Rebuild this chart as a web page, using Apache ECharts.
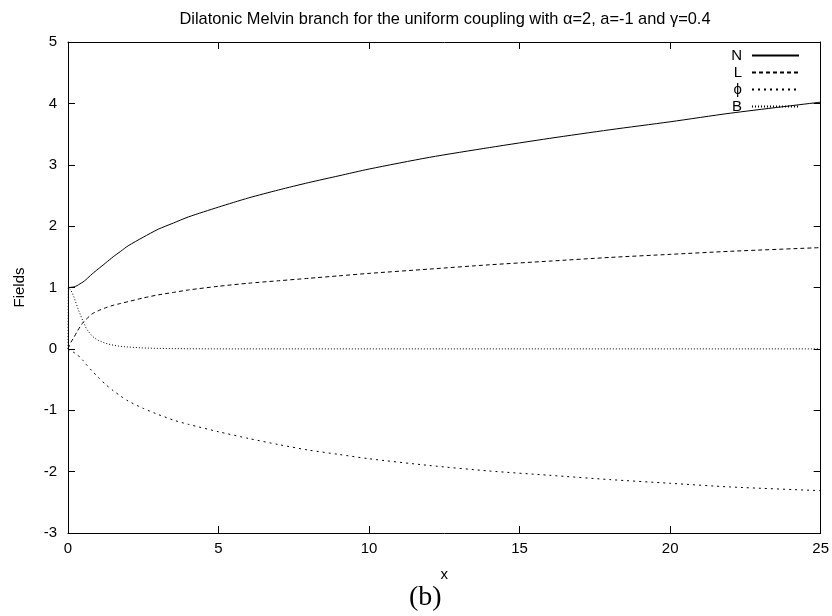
<!DOCTYPE html>
<html>
<head>
<meta charset="utf-8">
<script src="https://cdn.jsdelivr.net/npm/echarts@6/dist/echarts.min.js"></script>
<style>
html,body{margin:0;padding:0;background:#fff;}
#chart{width:832px;height:616px;}
</style>
</head>
<body>
<div id="chart"></div>
<script>
// Shared x samples for N, L and phi
var xs = [0, 0.1, 0.2, 0.3, 0.4, 0.5, 0.6, 0.8, 1, 1.25, 1.5, 1.75, 2, 2.5, 3, 3.5, 4, 5, 6, 7, 8, 9, 10, 12, 14, 16, 18, 20, 22, 25];
var nVals = [1.00, 1.003, 1.01, 1.03, 1.06, 1.09, 1.13, 1.22, 1.30, 1.40, 1.50, 1.59, 1.68, 1.82, 1.95, 2.05, 2.15, 2.31, 2.46, 2.59, 2.71, 2.82, 2.93, 3.12, 3.28, 3.43, 3.57, 3.70, 3.84, 4.02];
var lVals = [0.00, 0.11, 0.19, 0.28, 0.36, 0.43, 0.48, 0.57, 0.62, 0.67, 0.71, 0.74, 0.77, 0.83, 0.88, 0.92, 0.96, 1.02, 1.07, 1.11, 1.15, 1.19, 1.23, 1.30, 1.37, 1.43, 1.49, 1.54, 1.59, 1.65];
var phiVals = [0.00, -0.03, -0.06, -0.09, -0.14, -0.19, -0.25, -0.36, -0.46, -0.58, -0.68, -0.77, -0.85, -0.97, -1.07, -1.16, -1.23, -1.35, -1.46, -1.56, -1.65, -1.72, -1.79, -1.90, -1.99, -2.06, -2.13, -2.19, -2.25, -2.31];
// B has its own samples (starts with a jump at the origin)
var bXs = [0, 0.01, 0.05, 0.1, 0.15, 0.2, 0.25, 0.3, 0.35, 0.4, 0.5, 0.6, 0.7, 0.8, 0.9, 1, 1.25, 1.5, 1.75, 2, 2.5, 3, 3.5, 4, 5, 10, 15, 20, 25];
var bVals = [0.00, 1.00, 0.99, 0.95, 0.90, 0.84, 0.77, 0.70, 0.63, 0.57, 0.45, 0.34, 0.27, 0.21, 0.17, 0.14, 0.09, 0.06, 0.04, 0.03, 0.015, 0.008, 0.004, 0.002, 0.0, 0.0, 0.0, 0.0, 0.0];
var xTicks = {min: 0, max: 25, interval: 5};
var yTicks = {min: -3, max: 5, interval: 1};
var seriesNames = ['N', 'L', '\u03d5', 'B'];
var titleText = 'Dilatonic Melvin branch for the uniform coupling with \u03b1=2, a=-1 and \u03b3=0.4';

function pairs(x, y) { return x.map(function (v, i) { return [v, y[i]]; }); }

var chart = echarts.init(document.getElementById('chart'), null, {renderer: 'canvas'});
var font = 'Liberation Sans, Arial, sans-serif';
var axisLineStyle = {color: '#000', width: 1};
function axisLine() { return {show: true, onZero: false, lineStyle: axisLineStyle}; }
function axisTick() { return {show: true, inside: true, length: 7, lineStyle: axisLineStyle}; }
chart.setOption({
  animation: false,
  backgroundColor: '#fff',
  title: {
    text: titleText, left: 440, top: 6, textAlign: 'center',
    textStyle: {fontFamily: font, fontSize: 16.4, fontWeight: 'normal', color: '#000'}
  },
  grid: {left: 68, right: 11, top: 42, bottom: 83, containLabel: false},
  legend: {
    orient: 'vertical', align: 'right', right: 32, top: 47, padding: 0,
    itemWidth: 47, itemHeight: 14, itemGap: 0,
    itemStyle: {opacity: 0, borderWidth: 0},
    textStyle: {fontFamily: font, fontSize: 15, color: '#000', lineHeight: 17, padding: [0, 5, 0, 0]},
    data: seriesNames
  },
  graphic: [{
    type: 'text', left: 409, top: 584,
    style: {text: '(b)', font: '28px "Liberation Serif", "DejaVu Serif", serif', fill: '#000'}
  }],
  xAxis: [{
    type: 'value', position: 'bottom', min: xTicks.min, max: xTicks.max, interval: xTicks.interval,
    name: 'x', nameLocation: 'middle', nameGap: 34,
    nameTextStyle: {fontFamily: font, fontSize: 15, color: '#000'},
    axisLine: axisLine(), axisTick: axisTick(),
    axisLabel: {fontFamily: font, fontSize: 15, color: '#000', margin: 8},
    splitLine: {show: false}
  }, {
    type: 'value', position: 'top', min: xTicks.min, max: xTicks.max, interval: xTicks.interval,
    axisLine: axisLine(), axisTick: axisTick(),
    axisLabel: {show: false}, splitLine: {show: false}
  }],
  yAxis: [{
    type: 'value', position: 'left', min: yTicks.min, max: yTicks.max, interval: yTicks.interval,
    name: 'Fields', nameLocation: 'middle', nameGap: 41,
    nameTextStyle: {fontFamily: font, fontSize: 15, color: '#000'},
    axisLine: axisLine(), axisTick: axisTick(),
    axisLabel: {fontFamily: font, fontSize: 15, color: '#000', margin: 11},
    splitLine: {show: false}
  }, {
    type: 'value', position: 'right', min: yTicks.min, max: yTicks.max, interval: yTicks.interval,
    axisLine: axisLine(), axisTick: axisTick(),
    axisLabel: {show: false}, splitLine: {show: false}
  }],
  series: [{
    name: seriesNames[0], type: 'line', data: pairs(xs, nVals), showSymbol: false, symbol: 'none',
    smooth: 0.25, lineStyle: {color: '#000', width: 1, type: 'solid'}, itemStyle: {color: '#000'}
  }, {
    name: seriesNames[1], type: 'line', data: pairs(xs, lVals), showSymbol: false, symbol: 'none',
    smooth: 0.25, lineStyle: {color: '#000', width: 1, type: [4, 3]}, itemStyle: {color: '#000'}
  }, {
    name: seriesNames[2], type: 'line', data: pairs(xs, phiVals), showSymbol: false, symbol: 'none',
    smooth: 0.25, lineStyle: {color: '#000', width: 1, type: [2, 4]}, itemStyle: {color: '#000'}
  }, {
    name: seriesNames[3], type: 'line', data: pairs(bXs, bVals), showSymbol: false, symbol: 'none',
    smooth: false, lineStyle: {color: '#000', width: 1, type: [1, 2]}, itemStyle: {color: '#000'}
  }]
});
</script>
</body>
</html>
